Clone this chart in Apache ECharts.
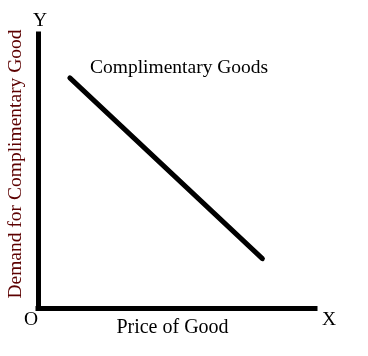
<!DOCTYPE html>
<html><head><meta charset="utf-8">
<script src="https://cdn.jsdelivr.net/npm/echarts@6/dist/echarts.min.js"></script>
<style>html,body{margin:0;padding:0;background:#fff}#c{width:368px;height:356px}</style>
</head><body><div id="c"></div>
<script>
const priceOfGood = [1.15, 8.1];
const demandForComplement = [8.4, 1.8];
const curveLabel = 'Complimentary Goods';
const xAxisTitle = 'Price of Good';
const yAxisTitle = 'Demand for Complimentary Good';

const chart = echarts.init(document.getElementById('c'), null, {renderer: 'canvas'});
const font = '"Liberation Serif", "Times New Roman", serif';
chart.setOption({
  animation: false,
  backgroundColor: '#fff',
  grid: {left: 38, top: 34, right: 53, bottom: 48, containLabel: false, outerBoundsMode: 'none'},
  xAxis: {
    type: 'value', min: 0, max: 10,
    axisLine: {show: true, lineStyle: {color: '#000', width: 5, cap: 'square'}},
    axisTick: {show: false}, axisLabel: {show: false}, splitLine: {show: false},
    name: xAxisTitle, nameLocation: 'middle', nameGap: 10,
    nameTextStyle: {color: '#000', fontFamily: font, fontSize: 20, padding: [0, 8, 0, 0]}
  },
  yAxis: {
    type: 'value', min: 0, max: 10,
    axisLine: {show: true, lineStyle: {color: '#000', width: 5, cap: 'square'}},
    axisTick: {show: false}, axisLabel: {show: false}, splitLine: {show: false},
    name: yAxisTitle, nameLocation: 'middle', nameGap: 12, nameRotate: 90,
    nameTextStyle: {color: '#5c0000', fontFamily: font, fontSize: 19.5, padding: [0, 0, 0, 14]}
  },
  series: [{
    type: 'line',
    data: priceOfGood.map((x, i) => [x, demandForComplement[i]]),
    symbol: 'none',
    lineStyle: {color: '#000', width: 5, cap: 'round'},
    silent: true
  }],
  graphic: [
    {type: 'text', left: 90, top: 58, style: {text: curveLabel, fill: '#000', font: '19.5px ' + font}},
    {type: 'text', left: 33, top: 11, style: {text: 'Y', fill: '#000', font: '19.5px ' + font}},
    {type: 'text', left: 322, top: 310, style: {text: 'X', fill: '#000', font: '19.5px ' + font}},
    {type: 'text', left: 24, top: 310, style: {text: 'O', fill: '#000', font: '19.5px ' + font}}
  ]
});
</script></body></html>
